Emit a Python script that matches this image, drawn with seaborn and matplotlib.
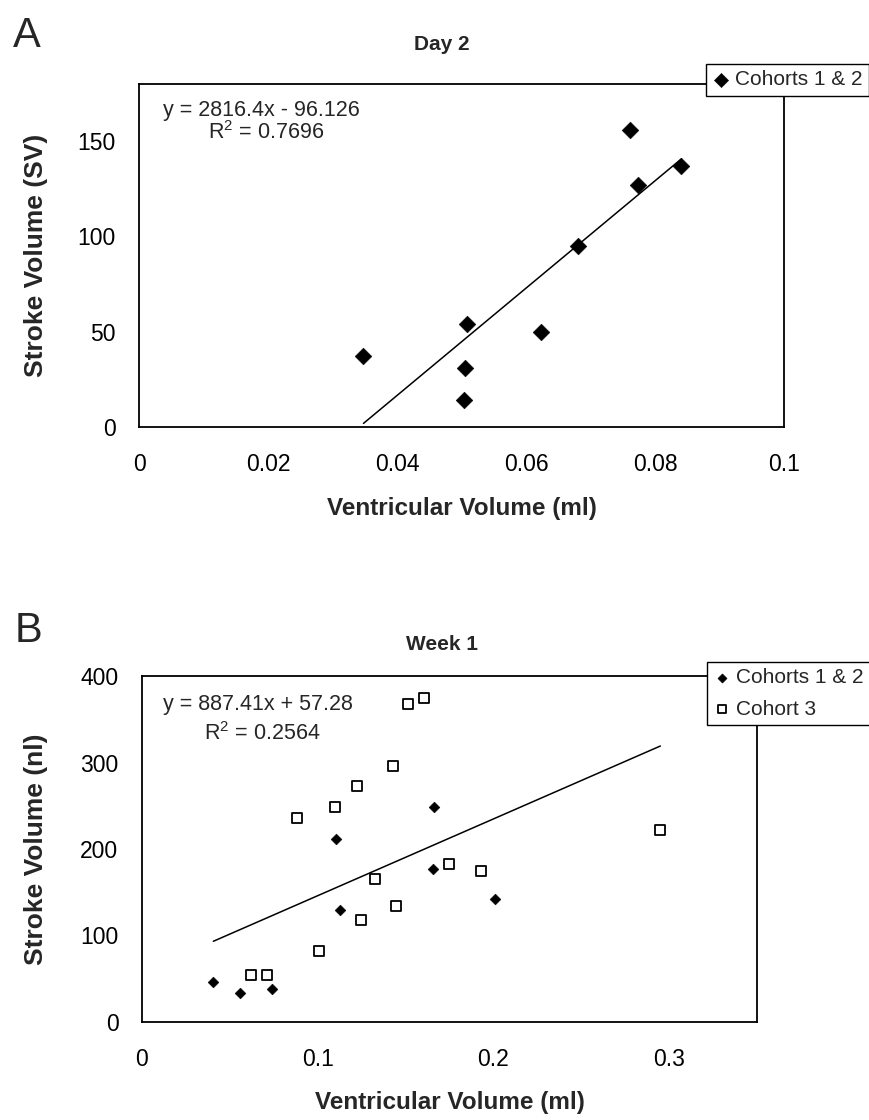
import numpy as np
import pandas as pd
import matplotlib
matplotlib.use("Agg")
import matplotlib.pyplot as plt
import seaborn as sns

# ---- Panel A: Day 2 ----
day2_vv = [0.0348, 0.0509, 0.0506, 0.0504, 0.0624, 0.0680, 0.0762, 0.0773, 0.0841]
day2_sv = [37, 54, 31, 14, 50, 95, 156, 127, 137]
day2_slope, day2_icpt, day2_r2 = 2816.4, -96.126, 0.7696

# ---- Panel B: Week 1 ----
wk1_c12_vv = [0.0406, 0.0557, 0.0740, 0.1102, 0.1129, 0.1655, 0.1664, 0.2009]
wk1_c12_sv = [46, 34, 38, 212, 129, 177, 249, 142]
wk1_c3_vv = [0.0621, 0.0711, 0.0883, 0.1009, 0.1097, 0.1223, 0.1248, 0.1327,
             0.1431, 0.1445, 0.1512, 0.1603, 0.1749, 0.1932, 0.2950]
wk1_c3_sv = [54, 54, 236, 82, 248, 273, 118, 165, 296, 134, 368, 375, 183, 174, 222]
wk1_slope, wk1_icpt, wk1_r2 = 887.41, 57.28, 0.2564

a_xticks = [0, 0.02, 0.04, 0.06, 0.08, 0.1]
a_yticks = [0, 50, 100, 150]
b_xticks = [0, 0.1, 0.2, 0.3]
b_yticks = [0, 100, 200, 300, 400]

sns.set_style("white")
plt.rcParams["font.family"] = ["Liberation Sans", "DejaVu Sans"]
plt.rcParams["mathtext.default"] = "regular"

W, H = 870, 1120
fig = plt.figure(figsize=(W / 100, H / 100), dpi=100)


def fx(px):
    return px / W


def fy(py):
    return 1 - py / H


def make_axes(left, top, right, bottom):
    return fig.add_axes([fx(left), fy(bottom), fx(right) - fx(left), (bottom - top) / H])


def style_axes(ax, xticks, yticks, xlim, ylim, ylabel):
    ax.set_xlim(*xlim)
    ax.set_ylim(*ylim)
    ax.set_xticks(xticks)
    ax.set_yticks(yticks)
    ax.set_xticklabels([f"{t:g}" for t in xticks])
    ax.set_yticklabels([f"{t:g}" for t in yticks])
    for sp in ax.spines.values():
        sp.set_visible(True)
        sp.set_color("black")
        sp.set_linewidth(1.3)
    ax.tick_params(axis="both", direction="out", length=5, width=1, color="#666666",
                   labelsize=16.5, labelcolor="black")
    ax.tick_params(axis="x", pad=14)
    ax.tick_params(axis="y", pad=12)
    ax.set_xlabel("Ventricular Volume (ml)", fontsize=17.5, fontweight="bold", va="center")
    ax.set_ylabel(ylabel, fontsize=19, fontweight="bold", va="center")
    ax.grid(False)


def trend(ax, xs, slope, icpt):
    x0, x1 = min(xs), max(xs)
    line = pd.DataFrame({"x": [x0, x1], "y": [slope * x0 + icpt, slope * x1 + icpt]})
    sns.lineplot(data=line, x="x", y="y", ax=ax, color="black", linewidth=1.1,
                 legend=False, zorder=2)


# ---------------- Panel A ----------------
axA = make_axes(139, 84, 784, 427)
dfA = pd.DataFrame({"vv": day2_vv, "sv": day2_sv})
trend(axA, day2_vv, day2_slope, day2_icpt)
sns.scatterplot(data=dfA, x="vv", y="sv", ax=axA, marker="D", s=72, color="black",
                edgecolor="black", linewidth=0.4, label="Cohorts 1 & 2", zorder=3)
style_axes(axA, a_xticks, a_yticks, (0, 0.1), (0, 180), "Stroke Volume (SV)")
axA.xaxis.set_label_coords(0.5, -(508 - 427) / 343)
axA.yaxis.set_label_coords((36 - 139) / 645, 0.5)
legA = axA.legend(loc="upper left", bbox_to_anchor=(fx(706), fy(64)),
                  bbox_transform=fig.transFigure, frameon=True, fancybox=False,
                  edgecolor="black", framealpha=1, fontsize=15, borderpad=0.3,
                  borderaxespad=0, handlelength=0.8, handletextpad=0.3, markerscale=0.85)
legA.get_frame().set_linewidth(1.0)

fig.text(fx(163), fy(116), f"y = {day2_slope}x - {abs(day2_icpt)}", fontsize=15.5,
         ha="left", va="baseline")
fig.text(fx(208), fy(139), f"R$^{{2}}$ = {day2_r2}", fontsize=15.5, ha="left", va="baseline")
fig.text(fx(442), fy(50), "Day 2", fontsize=15, fontweight="bold", ha="center", va="baseline")
fig.text(fx(13), fy(47), "A", fontsize=30, ha="left", va="baseline")

# ---------------- Panel B ----------------
axB = make_axes(142, 676, 757, 1022)
dfB1 = pd.DataFrame({"vv": wk1_c12_vv, "sv": wk1_c12_sv})
dfB3 = pd.DataFrame({"vv": wk1_c3_vv, "sv": wk1_c3_sv})
trend(axB, wk1_c12_vv + wk1_c3_vv, wk1_slope, wk1_icpt)
sns.scatterplot(data=dfB1, x="vv", y="sv", ax=axB, marker="D", s=30, color="black",
                edgecolor="black", linewidth=0.4, label="Cohorts 1 & 2", zorder=3)
sns.scatterplot(data=dfB3, x="vv", y="sv", ax=axB, marker="s", s=56, facecolor="white",
                edgecolor="black", linewidth=1.3, label="Cohort 3", zorder=3)
style_axes(axB, b_xticks, b_yticks, (0, 0.35), (0, 400), "Stroke Volume (nl)")
axB.xaxis.set_label_coords(0.5, -(1103 - 1022) / 346)
axB.yaxis.set_label_coords((36 - 142) / 615, 0.5)
legB = axB.legend(loc="upper left", bbox_to_anchor=(fx(707), fy(662)),
                  bbox_transform=fig.transFigure, frameon=True, fancybox=False,
                  edgecolor="black", framealpha=1, fontsize=15, borderpad=0.3,
                  borderaxespad=0, handlelength=0.8, handletextpad=0.3, labelspacing=0.6,
                  markerscale=0.85)
legB.get_frame().set_linewidth(1.0)

fig.text(fx(163), fy(710), f"y = {wk1_slope}x + {wk1_icpt}", fontsize=15.5,
         ha="left", va="baseline")
fig.text(fx(204), fy(740), f"R$^{{2}}$ = {wk1_r2}", fontsize=15.5, ha="left", va="baseline")
fig.text(fx(442), fy(650), "Week 1", fontsize=15, fontweight="bold", ha="center", va="baseline")
fig.text(fx(15), fy(642), "B", fontsize=30, ha="left", va="baseline")

fig.savefig("out.png", dpi=100)
